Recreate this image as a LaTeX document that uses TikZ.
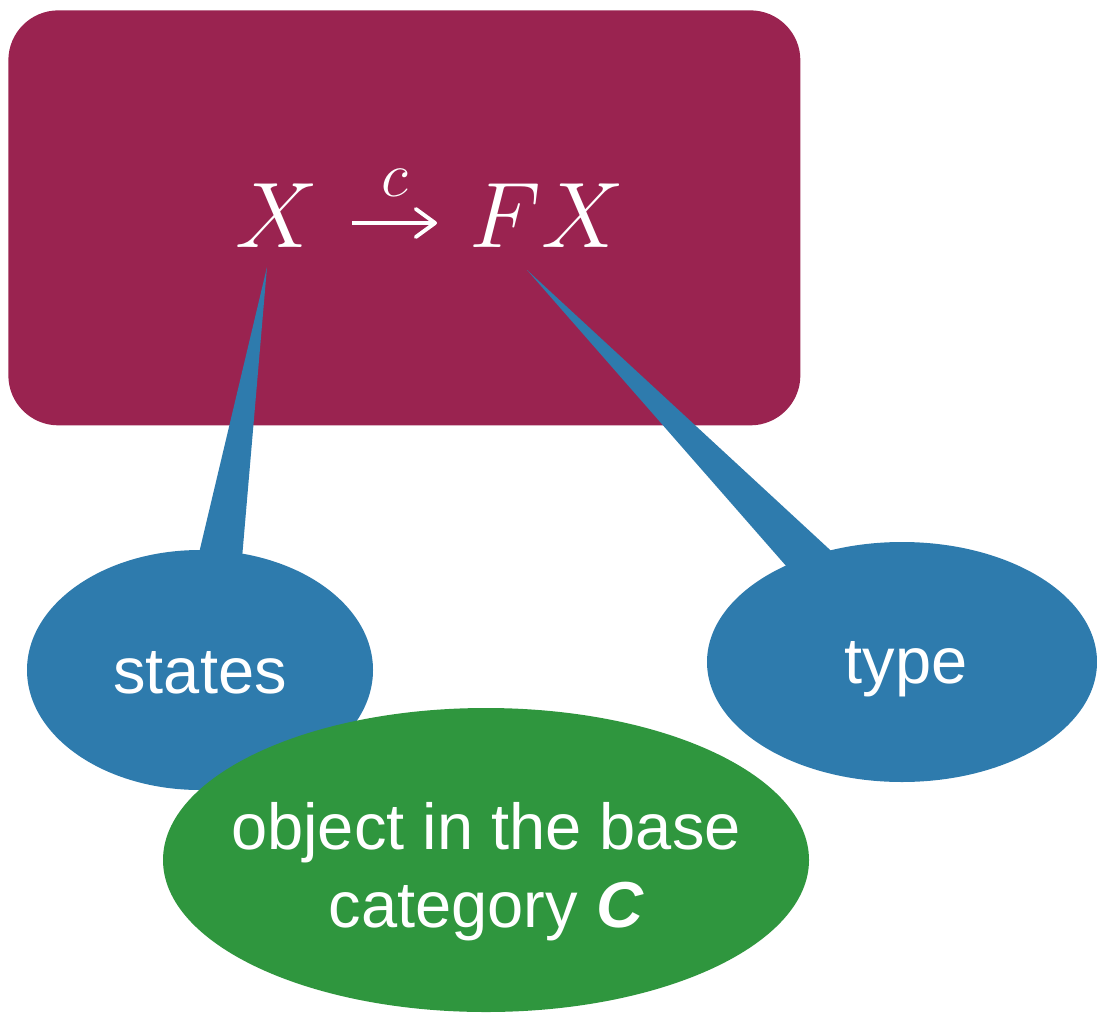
\RequirePackage{fix-cm}
\documentclass[tikz,border=0pt]{standalone}
\usepackage{fontspec}
\setmainfont{Liberation Sans}
\usetikzlibrary{shapes.geometric,calc,arrows.meta}
\definecolor{maroon}{HTML}{9A2350}
\definecolor{callblue}{HTML}{2E7BAD}
\definecolor{callgreen}{HTML}{2F963E}
\DeclareMathSizes{53}{53}{37}{27}
\DeclareMathSizes{36}{36}{25}{18}
\tikzset{
  bubble/.style={ellipse, inner sep=0pt},
  bubbletext/.style={text=white, inner sep=0pt, anchor=base, font=\fontsize{37}{44}\selectfont},
  tailshape/.style={fill=callblue, draw=none},
  mathtext/.style={text=white, inner sep=0pt, anchor=base, font=\fontsize{53}{60}\selectfont},
  maparrow/.style={draw=white, line width=2.2pt, -{Straight Barb[length=11pt, width=16pt, line width=2.2pt, round]}},
}
\begin{document}
\begin{tikzpicture}[x=0.02cm, y=-0.02cm]
\useasboundingbox (0,0) rectangle (1097,1013);
% main box
\node[fill=maroon, rounded corners=1cm, minimum width=792*0.02cm, minimum height=415*0.02cm, inner sep=0pt, anchor=north west] (box) at (8,10) {};
\node[mathtext] (X) at (277,248) {$X$};
\node[mathtext] (FX) at (547,248) {$FX$};
\coordinate (as) at (352,223);
\coordinate (ae) at (437,223);
\draw[maparrow] (as) -- (ae) node[midway, above=25*0.02cm, inner sep=0pt, text=white, font=\fontsize{36}{40}\selectfont] (c) {$c$};
% tail tips
\coordinate (lt) at (267,267);
\coordinate (rt) at (527,270);
% bubbles
\node[bubble, fill=callblue, minimum width=346*0.02cm, minimum height=240*0.02cm] (states) at (200,670) {};
\node[bubble, fill=callblue, minimum width=390*0.02cm, minimum height=240*0.02cm] (type) at (902,662) {};
\fill[tailshape] (lt) -- ($(states.center)+(41,-100)$) -- ($(states.center)+(-5,-100)$) -- cycle;
\fill[tailshape] (rt) -- ($(type.center)+(-61,-102)$) -- ($(type.center)+(-108,-87)$) -- cycle;
\node[bubbletext] (statestxt) at ($(states.center)+(0,23)$) {states};
\node[bubbletext] (typetxt) at ($(type.center)+(4,21)$) {type};
\node[bubble, fill=callgreen, minimum width=646*0.02cm, minimum height=304*0.02cm] (obj) at (486,860) {};
\node[bubbletext, align=center, anchor=base] (objtxt) at ($(obj.center)+(0,67)$) {object in the base\\category {\bfseries\itshape C}};
\end{tikzpicture}
\end{document}
